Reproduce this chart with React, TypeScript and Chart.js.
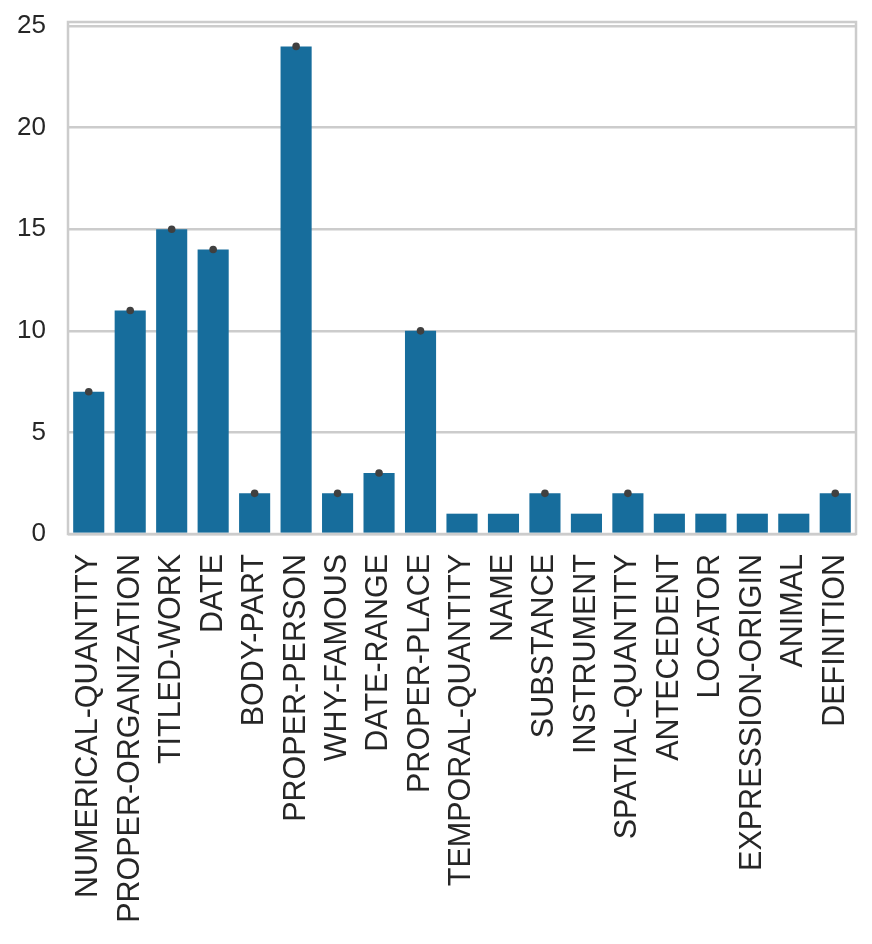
import React, { useEffect, useRef } from "react";
import { Chart, registerables } from "chart.js";

Chart.register(...registerables);

const categories = [
  "NUMERICAL-QUANTITY",
  "PROPER-ORGANIZATION",
  "TITLED-WORK",
  "DATE",
  "BODY-PART",
  "PROPER-PERSON",
  "WHY-FAMOUS",
  "DATE-RANGE",
  "PROPER-PLACE",
  "TEMPORAL-QUANTITY",
  "NAME",
  "SUBSTANCE",
  "INSTRUMENT",
  "SPATIAL-QUANTITY",
  "ANTECEDENT",
  "LOCATOR",
  "EXPRESSION-ORIGIN",
  "ANIMAL",
  "DEFINITION",
];

const counts = [7, 11, 15, 14, 2, 24, 2, 3, 10, 1, 1, 2, 1, 2, 1, 1, 1, 1, 2];

// error-bar markers (zero-width CI drawn as dots)
const errorMarks = [7, 11, 15, 14, 2, 24, 2, 3, 10, null, null, 2, null, 2, null, null, null, null, 2];

const yTicks = [0, 5, 10, 15, 20, 25];

const W = 872;
const H = 944;

const frame = {
  id: "frame",
  afterDatasetsDraw(chart: any) {
    const { ctx, chartArea } = chart;
    ctx.save();
    ctx.strokeStyle = "#cccccc";
    ctx.lineWidth = 2.5;
    ctx.strokeRect(chartArea.left, chartArea.top, chartArea.right - chartArea.left, chartArea.bottom - chartArea.top);
    ctx.restore();
  },
};

export default function App() {
  const ref = useRef<HTMLCanvasElement | null>(null);
  useEffect(() => {
    document.body.style.margin = "0";
    const canvas = ref.current!;
    const chart = new Chart(canvas, {
      type: "bar",
      data: {
        labels: categories,
        datasets: [
          {
            type: "line" as any,
            data: errorMarks as any,
            showLine: false,
            pointRadius: 3.8,
            pointBackgroundColor: "#404040",
            pointBorderWidth: 0,
            order: 0,
          } as any,
          {
            data: counts,
            backgroundColor: "#176d9c",
            borderWidth: 0,
            barPercentage: 0.75,
            categoryPercentage: 1,
            order: 1,
          },
        ],
      },
      options: {
        animation: false,
        responsive: false,
        devicePixelRatio: 1,
        layout: { padding: { top: 22, right: 16, left: 0, bottom: 0 } },
        plugins: { legend: { display: false }, tooltip: { enabled: false } },
        scales: {
          x: {
            offset: true,
            grid: { display: false, drawTicks: false },
            border: { display: false },
            ticks: {
              minRotation: 90,
              maxRotation: 90,
              autoSkip: false,
              padding: 20,
              color: "#262626",
              font: { family: "'Liberation Sans', Arial, sans-serif", size: 30.5 },
            },
            afterFit(scale: any) {
              scale.height = H - 534;
              scale.paddingLeft = 0;
              scale.paddingRight = 0;
            },
          },
          y: {
            min: 0,
            max: 25.2,
            grid: { color: "#cccccc", lineWidth: 2.5, drawTicks: false },
            border: { display: false },
            ticks: {
              stepSize: 5,
              padding: 22,
              color: "#262626",
              font: { family: "'Liberation Sans', Arial, sans-serif", size: 26 },
            },
            afterBuildTicks(scale: any) {
              scale.ticks = yTicks.map((v) => ({ value: v }));
            },
            afterFit(scale: any) {
              scale.width = 68;
              scale.paddingTop = 0;
              scale.paddingBottom = 0;
            },
          },
        },
      },
      plugins: [frame],
    });
    return () => chart.destroy();
  }, []);
  return (
    <div style={{ position: "absolute", left: 0, top: 0, width: W, height: H, background: "#fff" }}>
      <canvas ref={ref} width={W} height={H} style={{ width: W, height: H }} />
    </div>
  );
}
